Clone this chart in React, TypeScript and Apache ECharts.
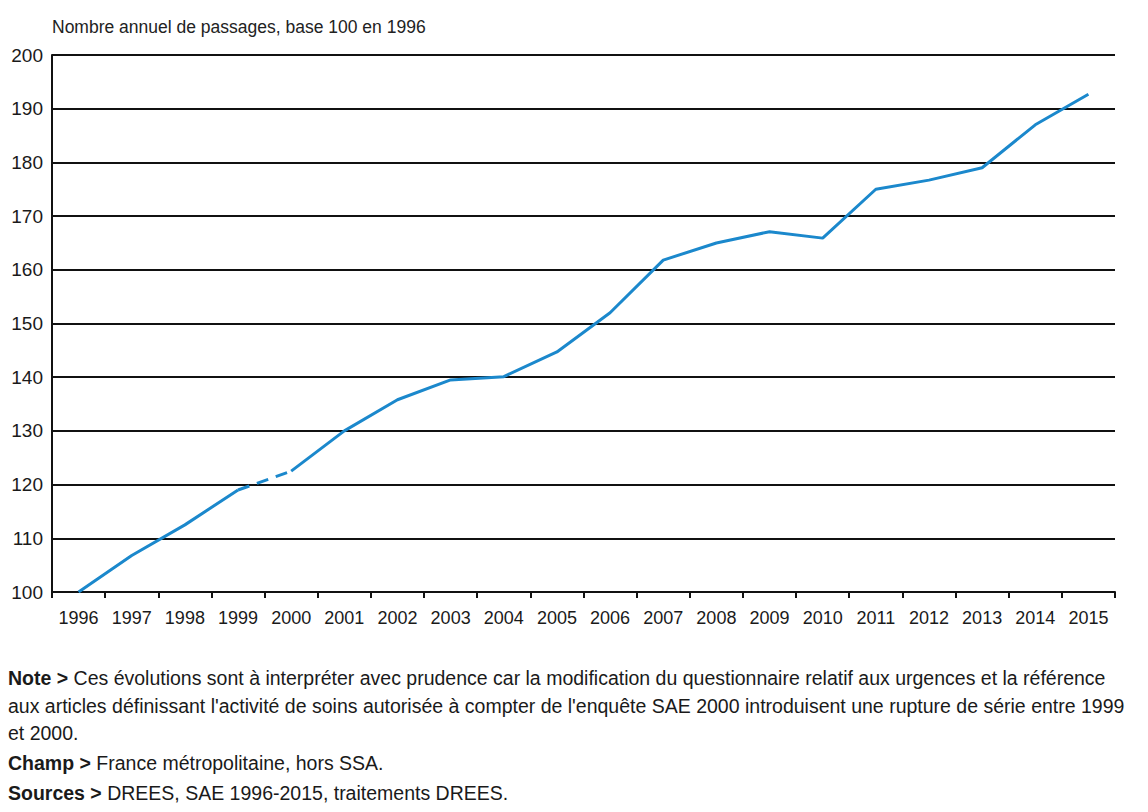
import React, { useEffect, useRef } from "react";
import * as echarts from "echarts";

const years = ["1996","1997","1998","1999","2000","2001","2002","2003","2004","2005","2006","2007","2008","2009","2010","2011","2012","2013","2014","2015"];
const values = [100, 106.8, 112.5, 119, 122.5, 130, 135.8, 139.5, 140.1, 144.7, 152, 161.8, 165, 167.1, 165.9, 175, 176.7, 179, 187, 192.7];
const breakYears = ["1999", "2000"];
const yTicks = { min: 100, max: 200, interval: 10 };

const titleText = "Nombre annuel de passages, base 100 en 1996";
const noteLines = [
  "{b|Note >} Ces évolutions sont à interpréter avec prudence car la modification du questionnaire relatif aux urgences et la référence",
  "aux articles définissant l'activité de soins autorisée à compter de l'enquête SAE 2000 introduisent une rupture de série entre 1999",
  "et 2000.",
  "{b|Champ >} France métropolitaine, hors SSA.",
  "{b|Sources >} DREES, SAE 1996-2015, traitements DREES.",
];

const FONT = "'Liberation Sans', Arial, sans-serif";

export default function App() {
  const ref = useRef<HTMLDivElement>(null);
  useEffect(() => {
    document.body.style.margin = "0";
    const chart = echarts.init(ref.current!, null, { renderer: "svg" });
    const bi0 = years.indexOf(breakYears[0]);
    const bi1 = years.indexOf(breakYears[1]);
    const before = values.map((v, i) => (i <= bi0 ? v : null));
    const after = values.map((v, i) => (i >= bi1 ? v : null));
    const brk = values.map((v, i) => (i === bi0 || i === bi1 ? v : null));
    const lineColor = "#1b88cc";
    const noteY = [680, 708, 735, 765, 795];
    chart.setOption({
      animation: false,
      backgroundColor: "#ffffff",
      grid: { left: 52, right: 33, top: 55, bottom: 220 },
      xAxis: {
        type: "category",
        data: years,
        boundaryGap: true,
        axisLine: { lineStyle: { color: "#111", width: 2 } },
        axisTick: { show: true, length: 6, lineStyle: { color: "#111", width: 2 } },
        axisLabel: { color: "#1a1a1a", fontFamily: FONT, fontSize: 18, margin: 17, interval: 0 },
        splitLine: { show: false },
      },
      yAxis: {
        type: "value",
        min: yTicks.min,
        max: yTicks.max,
        interval: yTicks.interval,
        axisLine: { show: true, lineStyle: { color: "#111", width: 2 } },
        axisTick: { show: false },
        axisLabel: { color: "#1a1a1a", fontFamily: FONT, fontSize: 19, margin: 9 },
        splitLine: { show: true, lineStyle: { color: "#111", width: 2 } },
      },
      series: [
        { type: "line", data: before, showSymbol: false, connectNulls: false, lineStyle: { color: lineColor, width: 3 }, itemStyle: { color: lineColor } },
        { type: "line", data: after, showSymbol: false, connectNulls: false, lineStyle: { color: lineColor, width: 3 }, itemStyle: { color: lineColor } },
        { type: "line", data: brk, showSymbol: false, connectNulls: false, lineStyle: { color: lineColor, width: 3, type: [12, 8] }, itemStyle: { color: lineColor } },
      ],
      graphic: [
        {
          type: "text",
          left: 52,
          top: 18,
          style: { text: titleText, fill: "#222", font: `17.5px ${FONT}` },
        },
        ...noteLines.map((t, i) => ({
          type: "text",
          left: 8,
          top: noteY[i] - 12,
          style: {
            text: t,
            fill: "#1a1a1a",
            font: `19.5px ${FONT}`,
            rich: { b: { fontWeight: "bold", fontSize: 19.5, fontFamily: FONT, fill: "#1a1a1a" } },
          },
        })),
      ],
    });
    return () => chart.dispose();
  }, []);
  return <div ref={ref} style={{ width: 1148, height: 812 }} />;
}
